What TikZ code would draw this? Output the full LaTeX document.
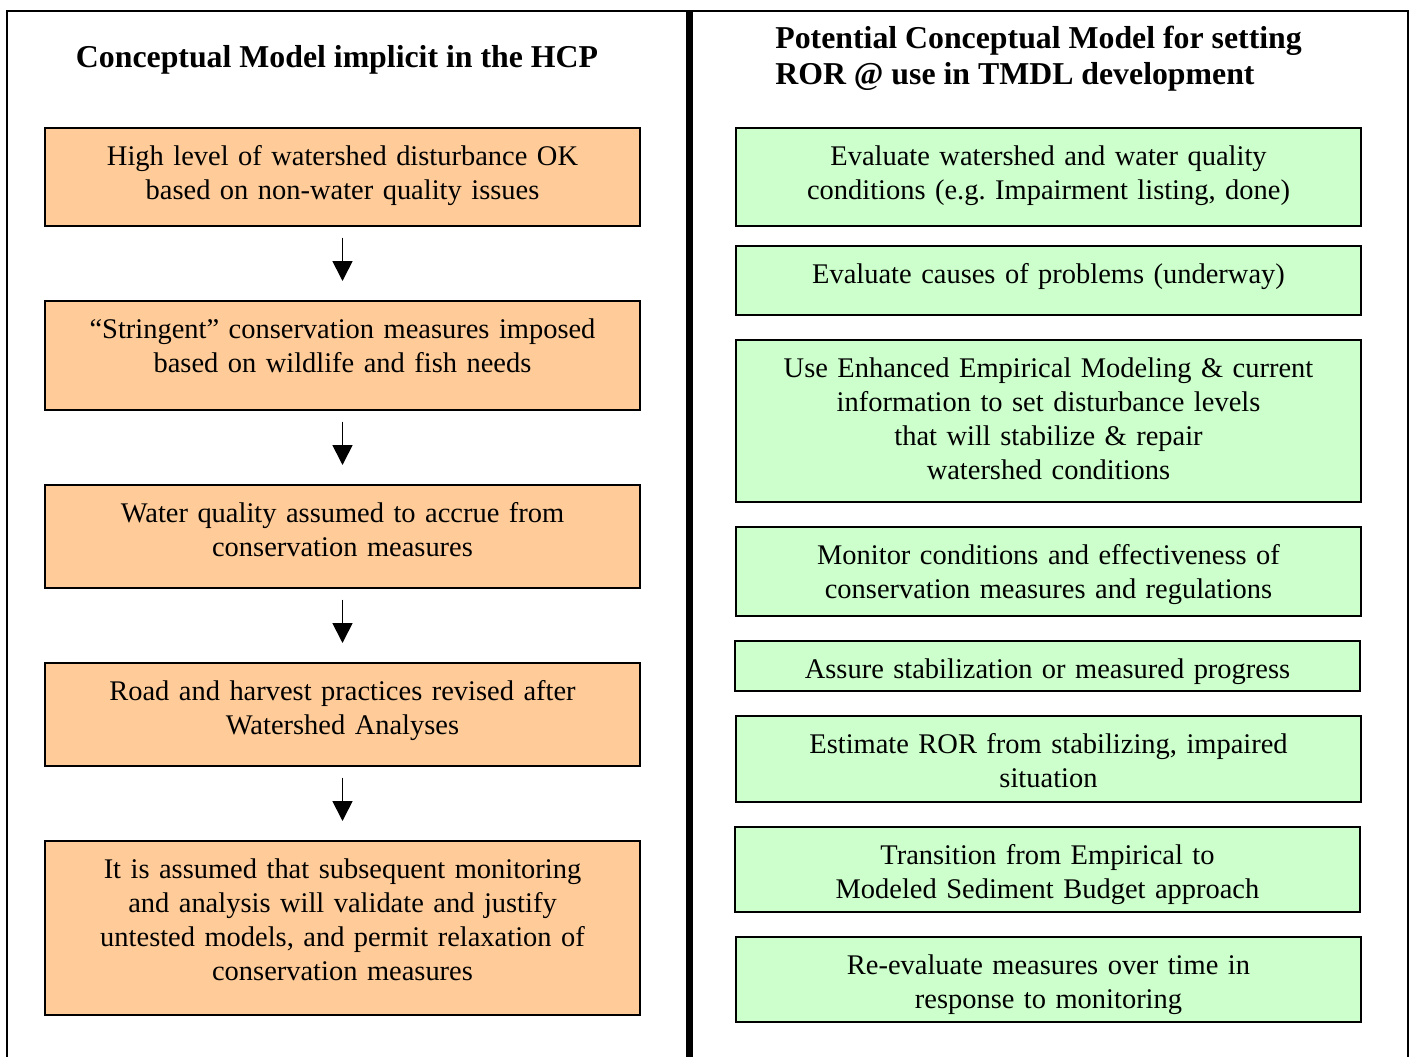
\documentclass[tikz,border=0pt]{standalone}
\usepackage{fontspec}
\setmainfont{Liberation Serif}
\usetikzlibrary{arrows.meta}

\definecolor{tanfill}{HTML}{FFCC99}
\definecolor{mintfill}{HTML}{CCFFCC}

\begin{document}
\begin{tikzpicture}[
    x=0.02cm, y=-0.02cm,
    heading/.style={font=\fontsize{18.1}{20.5}\selectfont\bfseries, inner sep=0pt},
    lbox/.style={draw, line width=1pt, fill=tanfill, anchor=north, text width=11.9cm, align=center,
        inner sep=0pt, text height=0.76cm, font=\fontsize{16.2}{19.35}\selectfont},
    rbox/.style={lbox, fill=mintfill, text width=12.5cm},
    arrow/.style={-{Triangle[width=0.4cm,length=0.4cm]}, line width=1pt, shorten <=0.22cm, shorten >=0.38cm}
]
\useasboundingbox (0,0) rectangle (1411,1057);

% Frame and divider
\draw[line width=1.1pt] (7,1057) -- (7,11) -- (1408,11) -- (1408,1057);
\draw[line width=4pt] (689.5,11) -- (689.5,1057);

% Headings
\node[heading] (lhead) at (337,60) {Conceptual Model implicit in the HCP};
\node[heading, anchor=west, align=left] (rhead) at (775,59) {Potential Conceptual Model for setting\\ROR @ use in TMDL development};

% Left column
\node[lbox, text depth=1.20cm] (l1) at (342.5,127) {High level of watershed disturbance OK\\based on non-water quality issues};
\node[lbox, text depth=1.42cm] (l2) at (342.5,300) {“Stringent” conservation measures imposed\\based on wildlife and fish needs};
\node[lbox, text depth=1.30cm] (l3) at (342.5,484) {Water quality assumed to accrue from\\conservation measures};
\node[lbox, text depth=1.30cm] (l4) at (342.5,662) {Road and harvest practices revised after\\Watershed Analyses};
\node[lbox, text depth=2.72cm] (l5) at (342.5,840) {It is assumed that subsequent monitoring\\and analysis will validate and justify\\untested models, and permit relaxation of\\conservation measures};

% Arrows between left boxes
\draw[arrow] (l1) -- (l2);
\draw[arrow] (l2) -- (l3);
\draw[arrow] (l3) -- (l4);
\draw[arrow] (l4) -- (l5);

% Right column
\node[rbox, text depth=1.20cm] (r1) at (1048.5,127) {Evaluate watershed and water quality\\conditions (e.g.\ Impairment listing, done)};
\node[rbox, text depth=0.62cm] (r2) at (1048.5,245) {Evaluate causes of problems (underway)};
\node[rbox, text depth=2.48cm] (r3) at (1048.5,339) {Use Enhanced Empirical Modeling \& current\\information to set disturbance levels\\that will stabilize \& repair\\watershed conditions};
\node[rbox, text depth=1.02cm] (r4) at (1048.5,526) {Monitor conditions and effectiveness of\\conservation measures and regulations};
\node[rbox, text depth=0.24cm] (r5) at (1047.5,640) {Assure stabilization or measured progress};
\node[rbox, text depth=0.96cm] (r6) at (1048.5,715) {Estimate ROR from stabilizing, impaired\\situation};
\node[rbox, text depth=0.94cm] (r7) at (1047.5,826) {Transition from Empirical to\\Modeled Sediment Budget approach};
\node[rbox, text depth=0.94cm] (r8) at (1048.5,936) {Re-evaluate measures over time in\\response to monitoring};

\end{tikzpicture}
\end{document}
